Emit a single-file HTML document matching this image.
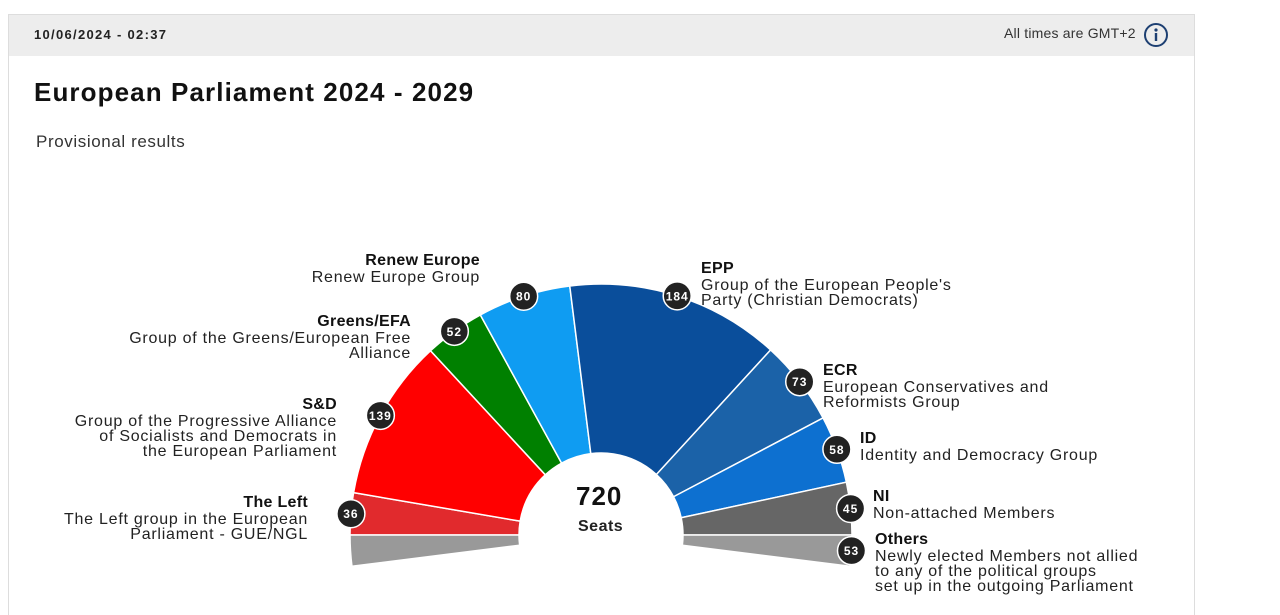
<!DOCTYPE html>
<html><head><meta charset="utf-8"><style>
body{margin:0;width:1280px;height:600px;background:#fff;font-family:"Liberation Sans",sans-serif;overflow:hidden;position:relative;color:#222}
.box{position:absolute;left:8px;top:14px;width:1185px;height:600px;border:1px solid #ddd;border-bottom:none}
.hdr{position:absolute;left:0;top:0;width:1185px;height:41px;background:#ededed}
.t{position:absolute;white-space:nowrap;font-size:16px;line-height:15px;color:#222;letter-spacing:0.75px}
.r{text-align:right}
b{font-size:16px;display:block;line-height:19px;color:#111;letter-spacing:0.3px}
</style></head><body>
<div class="box"><div class="hdr"></div></div>
<div class="t" style="left:34px;top:27px;font-size:13px;font-weight:bold;letter-spacing:1.3px">10/06/2024 - 02:37</div>
<div class="t" style="left:1004px;top:26px;font-size:14px;color:#333;letter-spacing:0.2px">All times are GMT+2</div>
<svg style="position:absolute;left:1143px;top:22px" width="26" height="26"><circle cx="13" cy="13" r="11" fill="none" stroke="#1d3f72" stroke-width="2"/><circle cx="13" cy="8" r="1.6" fill="#1d3f72"/><rect x="11.8" y="11" width="2.4" height="8" fill="#1d3f72"/></svg>
<div class="t" style="left:34px;top:78px;font-size:26px;line-height:28px;font-weight:bold;color:#111;letter-spacing:1.1px">European Parliament 2024 - 2029</div>
<div class="t" style="left:36px;top:134px;font-size:17px;color:#333;letter-spacing:0.6px">Provisional results</div>
<svg id="c" style="position:absolute;left:0;top:0" width="1280" height="600"></svg>
<div class="t" style="left:576px;top:482px;font-size:26px;line-height:28px;font-weight:bold;color:#111;letter-spacing:1px">720</div>
<div class="t" style="left:578px;top:519px;font-size:16px;font-weight:bold;color:#222;letter-spacing:0.5px">Seats</div>

<div class="t r" style="right:800px;top:251px"><b>Renew Europe</b>Renew Europe Group</div>
<div class="t r" style="right:869px;top:312px"><b>Greens/EFA</b>Group of the Greens/European Free<br>Alliance</div>
<div class="t r" style="right:943px;top:395px"><b>S&amp;D</b>Group of the Progressive Alliance<br>of Socialists and Democrats in<br>the European Parliament</div>
<div class="t r" style="right:972px;top:493px"><b>The Left</b>The Left group in the European<br>Parliament - GUE/NGL</div>
<div class="t" style="left:701px;top:259px"><b>EPP</b>Group of the European People's<br>Party (Christian Democrats)</div>
<div class="t" style="left:823px;top:361px"><b>ECR</b>European Conservatives and<br>Reformists Group</div>
<div class="t" style="left:860px;top:429px"><b>ID</b>Identity and Democracy Group</div>
<div class="t" style="left:873px;top:487px"><b>NI</b>Non-attached Members</div>
<div class="t" style="left:875px;top:530px"><b>Others</b>Newly elected Members not allied<br>to any of the political groups<br>set up in the outgoing Parliament</div>
<script>
var cx=601,cy=535,ri=82,ro=251,k=180/667;
var s=document.getElementById('c'),h='';
function P(r,a){a=a*Math.PI/180;return [cx-r*Math.cos(a),cy-r*Math.sin(a)];}
function seg(a0,a1,col){var p1=P(ro,a0),p2=P(ro,a1),p3=P(ri,a1),p4=P(ri,a0);
h+='<path d="M'+p1+' A'+ro+' '+ro+' 0 0 1 '+p2+' L'+p3+' A'+ri+' '+ri+' 0 0 0 '+p4+'Z" fill="'+col+'" stroke="#fff" stroke-width="1.5"/>';}
var d=[[36,'#e12a2d'],[139,'#ff0000'],[52,'#008000'],[80,'#0f9cf2'],[184,'#0a4e9b'],[73,'#1b62a8'],[58,'#0d70d0'],[45,'#666666']];
var a=0,b=[];
d.forEach(function(e){var a1=a+e[0]*k;seg(a,a1,e[1]);b.push([e[0],(a+a1)/2]);a=a1;});
var o=26.5*k;seg(-o,0,'#999999');seg(180,180+o,'#999999');
b.push([53,180+o/2]);
b.forEach(function(e){var p=P(ro,e[1]);
h+='<circle cx="'+p[0]+'" cy="'+p[1]+'" r="14" fill="#222" stroke="#fff" stroke-width="1.5"/><text x="'+p[0]+'" y="'+(p[1]+4.5)+'" text-anchor="middle" fill="#fff" font-size="12" font-weight="bold" letter-spacing="1" font-family="Liberation Sans">'+e[0]+'</text>';});
s.innerHTML=h;
</script>
</body></html>
